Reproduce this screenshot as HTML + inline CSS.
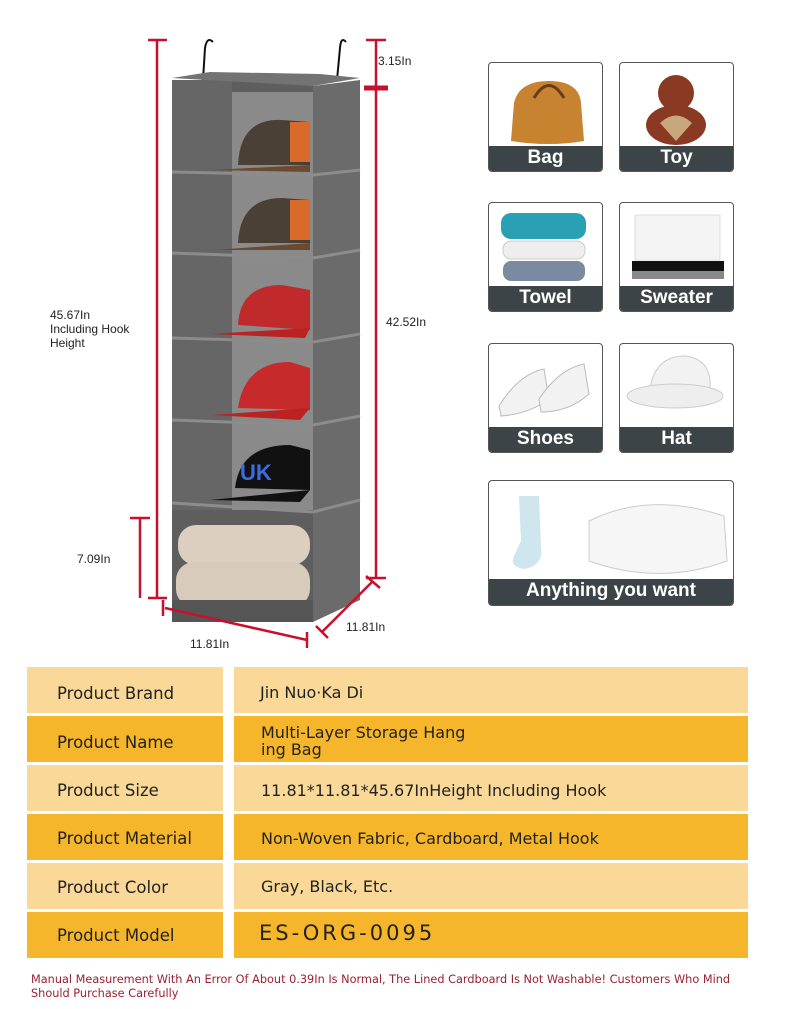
<!DOCTYPE html>
<html><head><meta charset="utf-8"><style>
*{margin:0;padding:0;box-sizing:border-box}
body{width:790px;height:1009px;background:#fff;position:relative;overflow:hidden;font-family:"Liberation Sans","DejaVu Sans",sans-serif}
.t{position:absolute;font-size:12px;color:#222}
.tile{position:absolute;border:1px solid #555;border-radius:4px;background:#fff;overflow:hidden}
.bar{position:absolute;left:0;right:0;bottom:0;height:25px;background:#3d4447;color:#fff;font-weight:bold;font-size:19px;text-align:center;line-height:24px}
.c{position:absolute;font-family:"DejaVu Sans",sans-serif;font-size:16px;color:#222}
.k{font-size:16.5px}
.l{background:#fad998}.d{background:#f6b62b}
.note{position:absolute;left:31px;top:973px;font-family:"DejaVu Sans",sans-serif;font-size:11.3px;color:#9a2030;line-height:14px;width:760px}
</style></head><body>
<svg width="790" height="660" style="position:absolute;left:0;top:0">
<path d="M203 80 L205 48 Q207 36 213 42" stroke="#111" stroke-width="2" fill="none"/>
<path d="M337 80 L340 48 Q341 36 346 42" stroke="#111" stroke-width="2" fill="none"/>
<polygon points="313,86 360,80 360,600 313,622" fill="#6b6b6b"/>
<rect x="172" y="80" width="141" height="542" fill="#5e5e5e"/>
<rect x="172" y="80" width="60" height="430" fill="#666"/>
<rect x="232" y="92" width="81" height="418" fill="#8a8a8a"/>
<polygon points="172,78 313,86 360,78 320,74 210,72" fill="#737373"/>
<g fill="#4a4036"><path d="M238 165 Q240 118 282 120 L310 122 L310 165Z"/><path d="M238 243 Q240 198 282 198 L310 200 L310 243Z"/></g>
<rect x="290" y="122" width="20" height="40" fill="#d86a2a"/><rect x="290" y="200" width="20" height="40" fill="#d86a2a"/>
<path d="M212 170 L310 165 L310 172 Z" fill="#6a4a30"/><path d="M215 250 L310 243 L310 250Z" fill="#6a4a30"/>
<path d="M238 325 Q240 285 282 285 L310 290 L310 330 Z" fill="#c02a2a"/><path d="M210 334 L310 328 L305 338Z" fill="#b22"/>
<path d="M238 408 Q245 362 290 362 L310 368 L310 410Z" fill="#c62a2a"/><path d="M212 415 L310 408 L300 420Z" fill="#b22"/>
<path d="M235 488 Q240 445 290 445 L310 450 L310 490Z" fill="#111"/><path d="M210 500 L310 490 L300 502Z" fill="#111"/>
<text x="240" y="480" fill="#3a6ee0" font-size="22" font-weight="bold" font-family="Liberation Sans">UK</text>
<rect x="178" y="525" width="132" height="40" rx="18" fill="#dccfc0"/><rect x="176" y="562" width="134" height="45" rx="18" fill="#d9cbbb"/>
<g stroke="#8c8c8c" stroke-width="3">
<line x1="172" y1="172" x2="313" y2="175"/><line x1="313" y1="175" x2="360" y2="170"/>
<line x1="172" y1="253" x2="313" y2="258"/><line x1="313" y1="258" x2="360" y2="250"/>
<line x1="172" y1="338" x2="313" y2="342"/><line x1="313" y1="342" x2="360" y2="334"/>
<line x1="172" y1="420" x2="313" y2="425"/><line x1="313" y1="425" x2="360" y2="416"/>
<line x1="172" y1="503" x2="313" y2="512"/><line x1="313" y1="512" x2="360" y2="500"/>
</g>
<rect x="172" y="600" width="141" height="22" fill="#555"/>
<g stroke="#c8102e" stroke-width="2.5" fill="none">
<line x1="157" y1="40" x2="157" y2="598"/><line x1="148" y1="40" x2="167" y2="40"/><line x1="148" y1="598" x2="167" y2="598"/>
<line x1="376" y1="40" x2="376" y2="578"/><line x1="366" y1="40" x2="386" y2="40"/><line x1="364" y1="88" x2="388" y2="88" stroke-width="5"/><line x1="366" y1="578" x2="386" y2="578"/>
<line x1="140" y1="518" x2="140" y2="598"/><line x1="130" y1="518" x2="150" y2="518"/>
<line x1="165" y1="608" x2="307" y2="640"/><line x1="163" y1="600" x2="163" y2="616"/><line x1="307" y1="632" x2="307" y2="648"/>
<line x1="322" y1="632" x2="372" y2="582"/><line x1="316" y1="626" x2="328" y2="638"/><line x1="366" y1="576" x2="380" y2="588"/>
</g>
</svg>
<div class="t" style="left:378px;top:54px">3.15In</div>
<div class="t" style="left:50px;top:308px;line-height:14px">45.67In<br>Including Hook<br>Height</div>
<div class="t" style="left:386px;top:315px">42.52In</div>
<div class="t" style="left:77px;top:552px">7.09In</div>
<div class="t" style="left:190px;top:637px">11.81In</div>
<div class="t" style="left:346px;top:620px">11.81In</div>

<div class="tile" style="left:488px;top:62px;width:115px;height:110px"><svg width="113" height="85"><path d="M25 40 Q30 18 60 18 Q90 18 92 40 L95 78 Q60 84 22 78Z" fill="#c78330"/><path d="M45 35 Q60 10 75 35" stroke="#6a3a1a" stroke-width="3" fill="none"/></svg><div class="bar">Bag</div></div>
<div class="tile" style="left:619px;top:62px;width:115px;height:110px"><svg width="113" height="85"><circle cx="56" cy="30" r="18" fill="#8a3a22"/><ellipse cx="56" cy="62" rx="30" ry="20" fill="#8a3a22"/><path d="M40 60 Q56 45 72 60 L56 78Z" fill="#c9a77d"/></svg><div class="bar">Toy</div></div>
<div class="tile" style="left:488px;top:202px;width:115px;height:110px"><svg width="113" height="85"><rect x="12" y="10" width="85" height="26" rx="10" fill="#2aa0b5"/><rect x="14" y="38" width="82" height="18" rx="8" fill="#eee" stroke="#ccc"/><rect x="14" y="58" width="82" height="20" rx="8" fill="#7a8aa0"/></svg><div class="bar">Towel</div></div>
<div class="tile" style="left:619px;top:202px;width:115px;height:110px"><svg width="113" height="85"><rect x="15" y="12" width="85" height="45" fill="#f4f4f4" stroke="#ddd"/><rect x="12" y="58" width="92" height="10" fill="#111"/><rect x="12" y="68" width="92" height="8" fill="#888"/></svg><div class="bar">Sweater</div></div>
<div class="tile" style="left:488px;top:343px;width:115px;height:110px"><svg width="113" height="85"><path d="M10 62 Q30 30 55 25 L60 55 Q40 70 12 72Z" fill="#f2f2f2" stroke="#bbb"/><path d="M50 55 Q70 25 95 20 L100 50 Q80 68 52 68Z" fill="#f2f2f2" stroke="#bbb"/></svg><div class="bar">Shoes</div></div>
<div class="tile" style="left:619px;top:343px;width:115px;height:110px"><svg width="113" height="85"><path d="M30 45 Q35 12 65 12 Q92 15 90 45Z" fill="#f2f2f2" stroke="#ccc"/><ellipse cx="55" cy="52" rx="48" ry="12" fill="#eee" stroke="#ccc"/></svg><div class="bar">Hat</div></div>
<div class="tile" style="left:488px;top:480px;width:246px;height:126px"><svg width="244" height="100"><path d="M30 15 L50 15 L52 65 Q55 85 35 88 Q20 85 25 75 L32 60Z" fill="#cfe6ee"/><path d="M100 40 Q160 10 235 35 L238 80 Q170 105 100 80Z" fill="#f6f6f6" stroke="#ccc"/></svg><div class="bar" style="height:26px">Anything you want</div></div>

<div class="l" style="position:absolute;left:27px;top:667px;width:196px;height:46px"></div><div class="l" style="position:absolute;left:234px;top:667px;width:514px;height:46px"></div>
<div class="d" style="position:absolute;left:27px;top:716px;width:196px;height:46px"></div><div class="d" style="position:absolute;left:234px;top:716px;width:514px;height:46px"></div>
<div class="l" style="position:absolute;left:27px;top:765px;width:196px;height:46px"></div><div class="l" style="position:absolute;left:234px;top:765px;width:514px;height:46px"></div>
<div class="d" style="position:absolute;left:27px;top:814px;width:196px;height:46px"></div><div class="d" style="position:absolute;left:234px;top:814px;width:514px;height:46px"></div>
<div class="l" style="position:absolute;left:27px;top:863px;width:196px;height:46px"></div><div class="l" style="position:absolute;left:234px;top:863px;width:514px;height:46px"></div>
<div class="d" style="position:absolute;left:27px;top:912px;width:196px;height:46px"></div><div class="d" style="position:absolute;left:234px;top:912px;width:514px;height:46px"></div>

<div class="c k" style="left:57px;top:684px">Product Brand</div><div class="c" style="left:260px;top:683px">Jin Nuo·Ka Di</div>
<div class="c k" style="left:57px;top:733px">Product Name</div><div class="c" style="left:261px;top:724px;line-height:17px">Multi-Layer Storage Hang<br>ing Bag</div>
<div class="c k" style="left:57px;top:781px">Product Size</div><div class="c" style="left:261px;top:781px">11.81*11.81*45.67InHeight Including Hook</div>
<div class="c k" style="left:57px;top:829px">Product Material</div><div class="c" style="left:261px;top:829px">Non-Woven Fabric, Cardboard, Metal Hook</div>
<div class="c k" style="left:57px;top:878px">Product Color</div><div class="c" style="left:261px;top:877px">Gray, Black, Etc.</div>
<div class="c k" style="left:57px;top:926px">Product Model</div><div class="c" style="left:259px;top:921px;font-size:21px;letter-spacing:3px">ES-ORG-0095</div>
<div class="note">Manual Measurement With An Error Of About 0.39In Is Normal, The Lined Cardboard Is Not Washable! Customers Who Mind<br>Should Purchase Carefully</div>
</body></html>
